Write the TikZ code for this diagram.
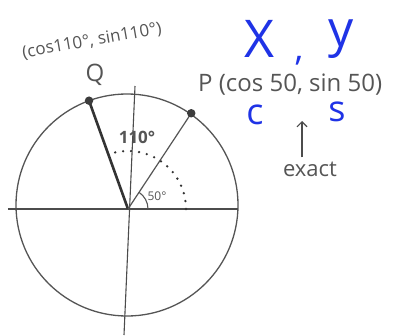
\documentclass[tikz,border=0pt]{standalone}
\usepackage{fontspec}
\setmainfont{Open Sans}
\usetikzlibrary{calc,arrows.meta}
\definecolor{pencil}{HTML}{555555}
\definecolor{ink}{HTML}{1F33E6}
\tikzset{pen/.style={draw=pencil,line width=1.3pt}}
\tikzset{axis/.style={draw=pencil!90!black,line width=1.1pt}}
\tikzset{point/.style={fill=pencil!70!black,circle,inner sep=3pt}}
\tikzset{note/.style={text=pencil,inner sep=0pt}}
\tikzset{bluenote/.style={text=ink,inner sep=0pt}}

\begin{document}
\begin{tikzpicture}[x=1pt,y=1pt]
    \useasboundingbox [fill=white] (-128,-126) rectangle (265,209);
    \coordinate (O) at (0,0);
    \coordinate (C) at (-1,4);
    \coordinate (P) at ($(C)+(55:112)$);
    \coordinate (Q) at ($(C)+(110:111)$);
    \coordinate (xl) at (-120,0);
    \coordinate (xr) at (110,0);
    \coordinate (yb) at (-4,-126);
    \coordinate (yt) at (7,123);
    \draw [pen] (C) circle (111);
    \draw [axis] (xl) -- (xr);
    \draw [axis] (yb) -- (yt);
    \draw [pen,line width=2.6pt,draw=pencil!60!black] (O) -- (Q);
    \draw [pen,line width=1.2pt] (O) -- (P);
    \draw [pencil!60!black,line width=2.6pt,line cap=round,dash pattern=on 0pt off 8pt] (58,0) arc (0:110:58);
    \draw [pen,line width=1.1pt] (20,0) arc (0:57:20);
    \node [point] (q) at (Q) {};
    \node [point] (p) at (P) {};
    \node [note,font=\fontsize{24}{24}\selectfont] (qname) at (-33,134) {Q};
    \node [note,rotate=10,font=\fontsize{17}{17}\selectfont] (qlabel) at (-36,168) {(cos110°, sin110°)};
    \node [note,anchor=west,font=\fontsize{24}{24}\selectfont] (plabel) at (70,124) {P (cos 50, sin 50)};
    \node [note,font=\fontsize{17}{17}\selectfont\bfseries] (big) at (9,72) {110°};
    \node [note,font=\fontsize{12}{12}\selectfont] (small) at (29,13) {50°};
    \node [bluenote,font=\fontsize{52}{52}\selectfont] (xx) at (132,170) {X};
    \node [bluenote,font=\fontsize{36}{36}\selectfont] (comma) at (171,148) {,};
    \node [bluenote,font=\fontsize{50}{50}\selectfont] (yy) at (213,170) {y};
    \node [bluenote,font=\fontsize{36}{36}\selectfont] (cc) at (127,94) {c};
    \node [bluenote,font=\fontsize{36}{36}\selectfont] (ss) at (209,97) {s};
    \node [note,font=\fontsize{22}{22}\selectfont] (exact) at (182,40) {exact};
    \coordinate (tip) at (174,88);
    \draw [axis,-{Straight Barb[length=5pt,width=10pt]}] ($(exact.north)+(-8,4)$) -- (tip);
\end{tikzpicture}
\end{document}
